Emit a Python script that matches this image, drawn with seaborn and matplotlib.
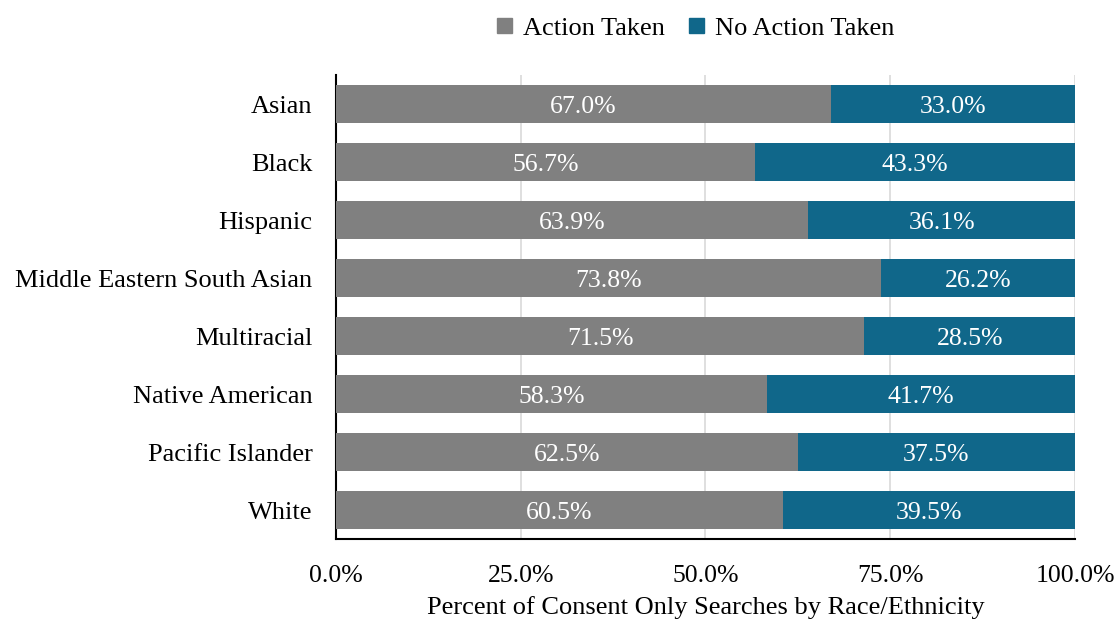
import matplotlib
matplotlib.use("Agg")
import matplotlib.pyplot as plt
import seaborn as sns
import pandas as pd
from matplotlib.patches import Patch

categories = ["Asian", "Black", "Hispanic", "Middle Eastern South Asian",
              "Multiracial", "Native American", "Pacific Islander", "White"]
action_taken = [67.0, 56.7, 63.9, 73.8, 71.5, 58.3, 62.5, 60.5]
no_action_taken = [33.0, 43.3, 36.1, 26.2, 28.5, 41.7, 37.5, 39.5]
x_ticks = [0, 25, 50, 75, 100]
x_tick_labels = ["0.0%", "25.0%", "50.0%", "75.0%", "100.0%"]

GRAY = "#808080"
TEAL = "#10678A"

sns.set_theme(style="white")
plt.rcParams["font.family"] = ["Liberation Serif", "DejaVu Serif"]
plt.rcParams["text.color"] = "black"
plt.rcParams["xtick.color"] = "black"
plt.rcParams["ytick.color"] = "black"
plt.rcParams["axes.labelcolor"] = "black"

df = pd.DataFrame({"cat": categories, "action": action_taken, "noaction": no_action_taken})
df["total"] = df["action"] + df["noaction"]

fig = plt.figure(figsize=(11.17, 6.21), dpi=100)
ax = fig.add_axes([0.3008, 0.132, 0.6616, 0.747])

sns.barplot(data=df, y="cat", x="total", color=TEAL, orient="h", width=0.66,
            saturation=1, ax=ax, zorder=2, linewidth=0)
sns.barplot(data=df, y="cat", x="action", color=GRAY, orient="h", width=0.66,
            saturation=1, ax=ax, zorder=3, linewidth=0)

for i, (a, n) in enumerate(zip(action_taken, no_action_taken)):
    ax.text(a / 2, i, f"{a:.1f}%", ha="center", va="center_baseline", color="white", fontsize=18.5, zorder=4)
    ax.text(a + n / 2, i, f"{n:.1f}%", ha="center", va="center_baseline", color="white", fontsize=18.5, zorder=4)

ax.set_xlim(0, 100)
ax.set_ylim(7.5, -0.5)
ax.set_xticks(x_ticks)
ax.set_xticklabels(x_tick_labels, fontsize=18.5)
ax.tick_params(axis="y", labelsize=19, length=0, pad=17)
ax.tick_params(axis="x", length=0, pad=19)
ax.set_ylabel("")
ax.set_xlabel("Percent of Consent Only Searches by Race/Ethnicity", fontsize=19, labelpad=6)
ax.xaxis.grid(True, color="#D9D9D9", linewidth=1.2, zorder=0)
ax.set_axisbelow(True)
for s in ["top", "right"]:
    ax.spines[s].set_visible(False)
for s in ["left", "bottom"]:
    ax.spines[s].set_color("black")
    ax.spines[s].set_linewidth(1.5)

handles = [Patch(color=GRAY, label="Action Taken"), Patch(color=TEAL, label="No Action Taken")]
fig.legend(handles=handles, loc="upper center", bbox_to_anchor=(0.623, 1.01), ncol=2,
           frameon=False, fontsize=19, handlelength=0.55, handleheight=0.55,
           handletextpad=0.45, columnspacing=0.9)

fig.savefig("out.png", dpi=100)
